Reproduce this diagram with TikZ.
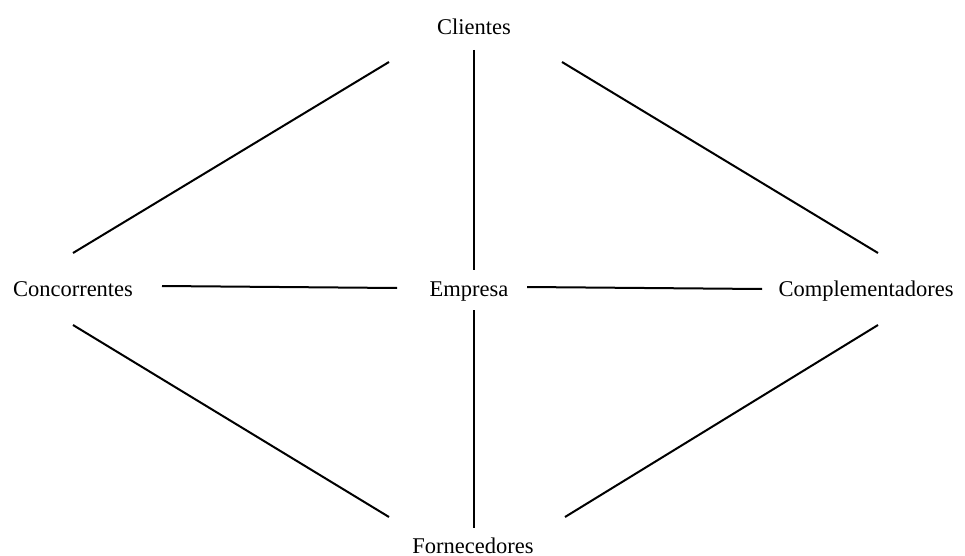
\documentclass[tikz,border=0pt]{standalone}
\usepackage{fontspec}
\setmainfont{Liberation Serif}
\begin{document}
\begin{tikzpicture}[x=1pt,y=-1pt,
  lbl/.style={anchor=base,inner sep=0pt,font=\fontsize{22.5}{26}\selectfont},
  link/.style={line width=2pt,black}]
\useasboundingbox (0,0) rectangle (965,556);
\node[lbl] (cli) at (474,35) {Clientes};
\node[lbl] (emp) at (469,296) {Empresa};
\node[lbl] (con) at (73,296) {Concorrentes};
\node[lbl] (com) at (866,296) {Complementadores};
\node[lbl] (for) at (473,553) {Fornecedores};
% endpoints
\coordinate (a1) at (474,50);  \coordinate (a2) at (474,270);
\coordinate (b1) at (474,310); \coordinate (b2) at (474,528);
\coordinate (c1) at (162,286); \coordinate (c2) at (397,288);
\coordinate (d1) at (527,287); \coordinate (d2) at (762,289);
\coordinate (e1) at (73,253);  \coordinate (e2) at (389,62);
\coordinate (f1) at (562,62);  \coordinate (f2) at (878,253);
\coordinate (g1) at (73,325);  \coordinate (g2) at (389,517);
\coordinate (h1) at (878,325); \coordinate (h2) at (565,517);
\draw[link] (a1) -- (a2);
\draw[link] (b1) -- (b2);
\draw[link] (c1) -- (c2);
\draw[link] (d1) -- (d2);
\draw[link] (e1) -- (e2);
\draw[link] (f1) -- (f2);
\draw[link] (g1) -- (g2);
\draw[link] (h1) -- (h2);
\end{tikzpicture}
\end{document}
